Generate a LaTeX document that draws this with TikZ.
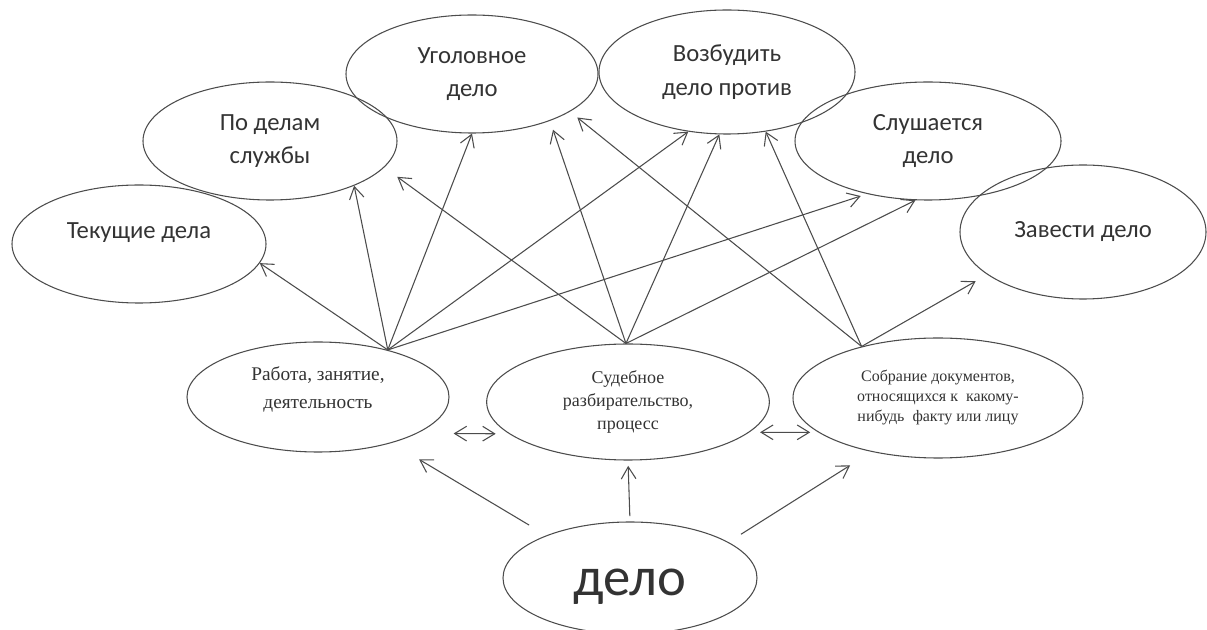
\documentclass[tikz,border=0pt]{standalone}
\usepackage{fontspec}
\setmainfont{Carlito}
\newfontfamily\tnr{Liberation Serif}
\usetikzlibrary{shapes.geometric,arrows.meta}

\begin{document}
\begin{tikzpicture}[x=0.75pt, y=-0.75pt,
oval/.style = {ellipse, draw=black!70, line width=0.8pt, inner sep=0pt, align=center,
               font=\fontsize{18.5}{25}\selectfont, text=black!80},
link/.style = {-{Straight Barb[length=9pt,width=11pt]}, draw=black!70, line width=0.8pt},
both/.style = {{Straight Barb[length=9pt,width=11pt]}-{Straight Barb[length=9pt,width=11pt]},
               draw=black!70, line width=0.8pt},
    line join=round
                        ]
\useasboundingbox (0,0) rectangle (1207,630);
%
\node[oval, minimum width=190.5pt, minimum height=88.5pt, text depth=20pt] (tek)   at (139,244)  {Текущие дела};
\node[oval, minimum width=190.5pt, minimum height=88.5pt] (sluzh) at (270,141)  {По делам\\службы};
\node[oval, minimum width=189pt,   minimum height=88.5pt] (ugol)  at (472,74)   {Уголовное\\дело};
\node[oval, minimum width=192pt,   minimum height=93pt]   (vozb)  at (727,72)   {Возбудить\\дело против};
\node[oval, minimum width=199.5pt, minimum height=88.5pt] (slush) at (928,141)  {Слушается\\дело};
\node[oval, minimum width=184.5pt, minimum height=100.5pt] (zav)  at (1083,232) {Завести дело};
%
\node[oval, minimum width=196.5pt, minimum height=82.5pt, text depth=14pt,
      font=\tnr\fontsize{14.5}{21}\selectfont] (rab) at (318,397) {Работа, занятие,\\деятельность};
\node[oval, minimum width=212pt, minimum height=87pt,
      font=\tnr\fontsize{13.5}{17}\selectfont] (sud) at (628,402) {Судебное\\разбирательство,\\процесс};
\node[oval, minimum width=217.5pt, minimum height=90pt,
      font=\tnr\fontsize{12}{15}\selectfont] (sob) at (938,398) {Собрание документов,\\относящихся к~ какому-\\нибудь~ факту или лицу};
\node[oval, minimum width=190.5pt, minimum height=84pt, text height=33pt,
      font=\fontsize{41}{43}\selectfont] (delo) at (630,578) {дело};
%
    \foreach \t in {tek.-9, sluzh.-28, ugol.-90, vozb.-123}
{
    \draw[link] (rab.34) -- (\t);
}
    \draw[link, shorten >=5pt] (rab.34) -- (slush.-139);
%
    \draw[link, shorten >=12pt] (sud.92) -- (sluzh.-13);
    \draw[link, shorten >=7pt]  (sud.92) -- (ugol.-31);
    \draw[link] (sud.92) -- (vozb.-97);
    \draw[link] (sud.92) -- (slush.-102);
%
    \draw[link, shorten >=7pt]  (sob.146) -- (ugol.-21);
    \draw[link] (sob.146) -- (vozb.-57);
    \draw[link, shorten >=10pt] (sob.146) -- (zav.-156);
%
\draw[link, shorten <=15pt, shorten >=24pt] (delo.153) -- (rab.-32);
\draw[link, shorten <=4pt,  shorten >=4pt]  (delo.90)  -- (sud.-90);
\draw[link, shorten <=11pt, shorten >=19pt] (delo.20)  -- (sob.-141);
%
\draw[both, shorten <=27pt, shorten >=10pt] (rab.-20) -- (sud.-165.5);
\draw[both, shorten <=8pt,  shorten >=6pt]  (sud.-14) -- (sob.-164);

\end{tikzpicture}
\end{document}
